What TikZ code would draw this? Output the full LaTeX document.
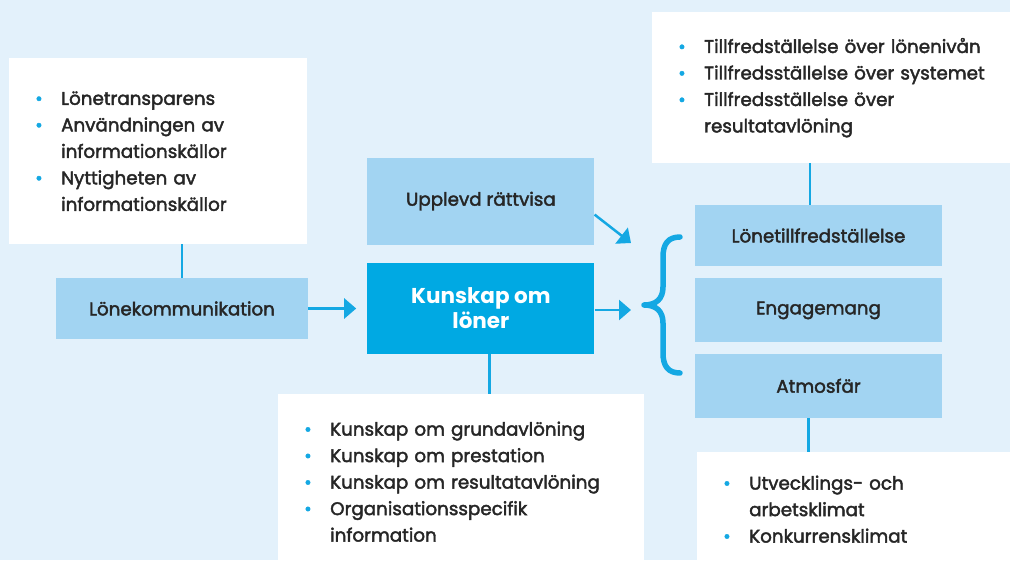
\documentclass[tikz,border=0pt]{standalone}
\usepackage{fontspec}
\setmainfont{Poppins}
\newfontfamily\medfont{Poppins}[FakeBold=2.2]
\usepackage{xcolor}
\usetikzlibrary{arrows.meta,positioning}
\definecolor{bg}{HTML}{E3F1FB}
\definecolor{soft}{HTML}{A2D4F2}
\definecolor{accent}{HTML}{00A9E3}
\definecolor{wire}{HTML}{14A8E3}
\definecolor{ink}{HTML}{262626}
\newcommand\itm{\makebox[26pt][l]{\textcolor{wire}{•}}}
\newcommand\ind{\hspace*{26pt}}

\begin{document}
\begin{tikzpicture}[x=1pt,y=-1pt,
  box/.style={fill=soft,minimum width=247pt,minimum height=61pt,inner sep=0pt,
              font=\medfont\fontsize{18.3}{22}\selectfont,text=ink,align=center},
  key/.style={box,fill=accent,minimum width=227pt,minimum height=91pt,
              font=\bfseries\fontsize{21.5}{25}\selectfont,text=white},
  list/.style={fill=white,anchor=north west,align=left,inner xsep=26pt,inner ysep=0pt,
               font=\medfont\fontsize{18.3}{26.5}\selectfont,text=ink},
  arr/.style={-{Triangle[length=12pt,width=20pt]},draw=wire,line width=2.5pt},
  link/.style={draw=wire,line width=2.5pt},
  brace/.style={draw=wire,line width=5.5pt,line cap=round,line join=round}
]
\clip (0,0) rectangle (1010,560);
\fill[bg] (0,0) rectangle (1010,560);

% white boxes with lists
\node[list,minimum width=298pt,minimum height=186pt,text width=246pt] (info) at (9,58)
  {\itm Lönetransparens\\
   \itm Användningen av\\
   \ind informationskällor\\
   \itm Nyttigheten av\\
   \ind informationskällor};
\node[list,minimum width=400pt,minimum height=151pt,text width=348pt] (sat) at (652,12)
  {\itm Tillfredställelse över lönenivån\\
   \itm Tillfredsställelse över systemet\\
   \itm Tillfredsställelse över\\
   \ind resultatavlöning};
\node[list,minimum width=366pt,minimum height=175pt,text width=314pt] (know) at (278,394)
  {\itm Kunskap om grundavlöning\\
   \itm Kunskap om prestation\\
   \itm Kunskap om resultatavlöning\\
   \itm Organisationsspecifik\\
   \ind information};
\node[list,minimum width=340pt,minimum height=114pt,text width=288pt,inner xsep=24pt] (env) at (697,452)
  {\itm Utvecklings- och\\
   \ind arbetsklimat\\
   \itm Konkurrensklimat};

% boxes
\node[box,minimum width=252pt] (lk) at (182,308.5) {Lönekommunikation};
\node[key,right=59pt of lk] (kl) {Kunskap om\\löner};
\node[box,minimum width=227pt,minimum height=87pt,above=18pt of kl] (ur) {Upplevd rättvisa};
\node[box] (lt) at (818.5,235.5) {Lönetillfredställelse};
\node[box,minimum height=64pt,below=12pt of lt] (en) {Engagemang};
\node[box,minimum height=64pt,below=11pt of en] (at) {Atmosfär};

% connectors
\coordinate (tip1) at (631,243);
\coordinate (tip2) at (631,310);
\coordinate (kd) at ([xshift=8.5pt]kl.south);
\coordinate (lu) at ([xshift=-8.5pt]lt.north);
\coordinate (ad) at ([xshift=-10pt]at.south);
\draw[link] (lk.north) -- (lk.north |- info.south);
\draw[link] (kd) -- (kd |- know.north);
\draw[link] (lu) -- (lu |- sat.south);
\draw[link] (ad) -- (ad |- env.north);
\draw[arr,shorten >=11pt] (lk.east) -- (kl.west |- lk.east);
\draw[arr] ([yshift=-13.5pt]ur.east) -- (tip1);
\draw[arr] (kl.east |- tip2) -- (tip2);

% brace
\draw[brace] (680,237) .. controls (668,237) and (663,244) .. (663,257) -- (663,287)
  .. controls (663,299) and (656,305) .. (644,305)
  .. controls (656,305) and (663,311) .. (663,323) -- (663,353)
  .. controls (663,366) and (668,373) .. (680,373);
\end{tikzpicture}
\end{document}
